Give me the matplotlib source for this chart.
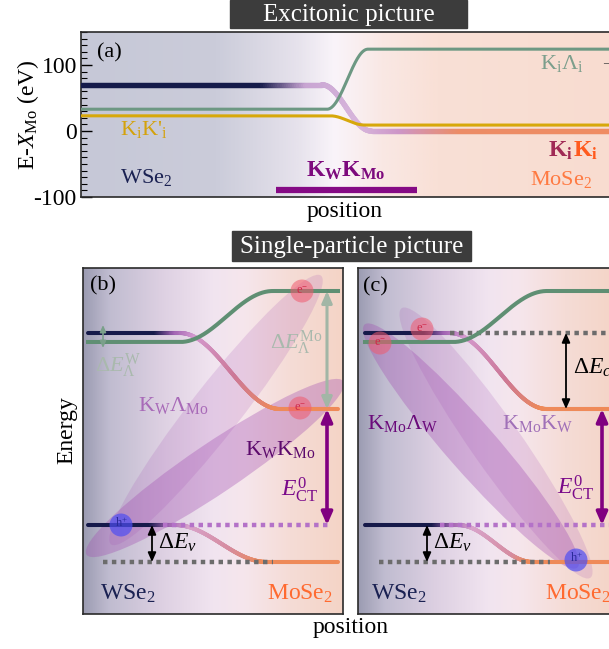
import numpy as np
import matplotlib.pyplot as plt
from matplotlib.collections import LineCollection
from matplotlib.colors import LinearSegmentedColormap
from matplotlib.patches import Ellipse, Circle, Rectangle
from matplotlib.ticker import MultipleLocator

plt.rcParams['font.family'] = ['Liberation Serif', 'DejaVu Serif']
plt.rcParams['mathtext.fontset'] = 'custom'
plt.rcParams['mathtext.rm'] = 'Liberation Serif'
plt.rcParams['mathtext.it'] = 'Liberation Serif:italic'
plt.rcParams['mathtext.bf'] = 'Liberation Serif:bold'
plt.rcParams['axes.unicode_minus'] = False

# ---------------- data ----------------
# (a) exciton energies E - X_Mo (left plateau, right plateau) and where they switch
kk_lev = [70, 0]          # K_W K_Mo  ->  K_i K_i
kk_x = [241, 290]
kl_lev = [33, 124]        # K_i Lambda_i
kl_x = [246, 287]
kkp_lev = [23, 9]         # K_i K'_i
kkp_x = [249, 284]
kwkmo_bar = [195, 336]
kwkmo_y = -89

# (b)/(c) single-particle levels (arb. units)
cb_w, cb_mo = 281, 205
lam_w, lam_mo = 272, 323
vb_w, vb_mo = 89, 52

cb_x_b, lam_x_b, vb_x_b = [97, 197], [97, 190], [92, 184]
cb_x_c, lam_x_c, vb_x_c = [92, 189], [95, 189], [100, 175]

# carriers (x, y) and exciton clouds (cx, cy, length, angle, alpha)
elec_b = [(219, 323), (217, 206)]
hole_b = [(38, 89)]
cloud_b = [(133, 204, 341, 52, 0.18), (132, 146, 310, 34, 0.35)]
elec_c = [(22, 271), (64, 285)]
hole_c = [(218, 54)]
cloud_c = [(113, 168, 323, -48.8, 0.35), (138, 171, 329, -55, 0.18)]

W, H = 609, 649
fig = plt.figure(figsize=(W / 100, H / 100), dpi=100)


def rect(l, t, r, b):
    return [l / W, 1 - b / H, (r - l) / W, (b - t) / H]


def label(x, y, s, **kw):
    kw.setdefault('va', 'center')
    return fig.text(x / W, 1 - y / H, s, **kw)


def step(x, xr, lev):
    t = np.clip((x - xr[0]) / (xr[1] - xr[0]), 0, 1)
    return lev[0] + (lev[1] - lev[0]) * 0.5 * (1 - np.cos(np.pi * t))


def band(ax, x, y, stops, lw, z=3):
    xs = np.array([s[0] for s in stops], float)
    pos = (xs - xs[0]) / (xs[-1] - xs[0])
    cmap = LinearSegmentedColormap.from_list('b', list(zip(pos, [s[1] for s in stops])))
    pts = np.column_stack([x, y]).reshape(-1, 1, 2)
    segs = np.concatenate([pts[:-1], pts[1:]], axis=1)
    xm = 0.5 * (x[:-1] + x[1:])
    t = np.clip((xm - xs[0]) / (xs[-1] - xs[0]), 0, 1)
    ax.add_collection(LineCollection(segs, colors=cmap(t), linewidths=lw,
                                     capstyle='round', joinstyle='round', zorder=z))


def backdrop(ax, stops):
    cmap = LinearSegmentedColormap.from_list('bg', stops)
    x0, x1 = ax.get_xlim()
    y0, y1 = ax.get_ylim()
    ax.imshow(np.linspace(0, 1, 400)[None, :], cmap=cmap, aspect='auto',
              extent=[x0, x1, y0, y1], zorder=0)
    ax.set_xlim(x0, x1)
    ax.set_ylim(y0, y1)


def frame(ax):
    for s in ax.spines.values():
        s.set_color('#2a2a2a')
        s.set_linewidth(1.2)


def arrow(ax, x, y0, y1, color, lw, ms):
    ax.annotate('', xy=(x, y1), xytext=(x, y0),
                arrowprops=dict(arrowstyle='<|-|>,head_length=0.5,head_width=0.22',
                                color=color, lw=lw, mutation_scale=ms,
                                shrinkA=0, shrinkB=0), zorder=6)


def title_box(l, t, r, b, s):
    fig.add_artist(Rectangle((l / W, 1 - b / H), (r - l) / W, (b - t) / H,
                             transform=fig.transFigure, color='#3c3c3c', zorder=5))
    label((l + r) / 2, (t + b) / 2 + 1, s, ha='center', color='white', fontsize=18, zorder=6)


# ---------------- (a) excitonic picture ----------------
ax = fig.add_axes(rect(81, 32, 621, 197))
ax.set_xlim(0, 540)
ax.set_ylim(-100, 150)
backdrop(ax, [(0, '#c6c8d7'), (0.25, '#cbccda'), (0.40, '#e6e2ec'), (0.47, '#faf4fa'),
              (0.56, '#f9e8e4'), (0.66, '#f9e0d6'), (1, '#f8dcd0')])
xa = np.linspace(0, 540, 800)
band(ax, xa, step(xa, kk_x, kk_lev),
     [(0, '#151b4a'), (180, '#151b4a'), (225, '#c8a4d2'), (280, '#d8b6dc'),
      (320, '#cd96c8'), (380, '#ec8c66'), (540, '#ef8c62')], 3.8)
ax.plot(xa, step(xa, kl_x, kl_lev), color='#6d9883', lw=2.2, zorder=4)
ax.plot(xa, step(xa, kkp_x, kkp_lev), color='#d7a80a', lw=2.2, zorder=4)
ax.plot(kwkmo_bar, [kwkmo_y, kwkmo_y], color='#850a85', lw=4.5, solid_capstyle='butt', zorder=4)
ax.set_xticks([])
ax.set_yticks([-100, 0, 100])
ax.yaxis.set_minor_locator(MultipleLocator(10))
ax.tick_params(axis='y', which='major', direction='in', length=8, width=1, labelsize=17, pad=3)
ax.tick_params(axis='y', which='minor', direction='in', length=4, width=0.8)
frame(ax)

label(28, 115, 'E-$X_{\\mathrm{Mo}}$ (eV)', ha='center', rotation=90, fontsize=17)
label(345, 211, 'position', ha='center', fontsize=17)
label(97, 53, '(a)', fontsize=16)
label(120, 130, "K$_\\mathrm{i}$K'$_\\mathrm{i}$", color='#d4a20c', fontsize=16)
label(120, 178, 'WSe$_2$', color='#1a2152', fontsize=16)
label(346, 171, 'K$_\\mathbf{W}$K$_\\mathbf{Mo}$', ha='center', color='#7d0a7d',
      fontsize=17, fontweight='bold')
label(540, 63, 'K$_\\mathrm{i}$Λ$_\\mathrm{i}$', color='#7c9e8c', fontsize=16)
label(548, 151, 'K$_\\mathbf{i}$', color='#a02a55', fontsize=17, fontweight='bold')
label(573, 151, 'K$_\\mathbf{i}$', color='#ff5a1e', fontsize=17, fontweight='bold')
label(530, 180, 'MoSe$_2$', color='#ff7a42', fontsize=16)
label(603, 64, '—', color='#444444', fontsize=10)
title_box(230, 0, 467, 28, 'Excitonic picture')


# ---------------- (b) and (c) single-particle picture ----------------
def panel(l, cbx, lamx, vbx, x0, x1, elecs, holes, clouds, dots):
    ax = fig.add_axes(rect(l, 268, l + 260, 614))
    ax.set_xlim(0, 260)
    ax.set_ylim(0, 346)
    backdrop(ax, [(0, '#9c9cb2'), (0.1, '#c0bcd0'), (0.3, '#ddd0e2'), (0.5, '#f1e4f0'),
                  (0.62, '#f6e6ec'), (0.8, '#f5dcd6'), (1, '#f4d4c6')])
    for cx, cy, length, ang, a in clouds:
        ax.add_patch(Ellipse((cx, cy), length, 50, angle=ang, color='#a24fb2',
                             alpha=a, lw=0, zorder=1))
    x = np.linspace(x0, x1, 600)
    band(ax, x, step(x, cbx, [cb_w, cb_mo]),
         [(x0, '#161a4a'), (cbx[0] - 25, '#161a4a'), (cbx[0] - 5, '#a062b2'),
          (cbx[0] + 15, '#d49ad0'), (cbx[0] + 55, '#cc7898'), (cbx[1] - 5, '#ee8a5a'),
          (260, '#ef8a58')], 2.9)
    ax.plot(x, step(x, lamx, [lam_w, lam_mo]), color='#5f8f73', lw=2.9, zorder=4)
    band(ax, x, step(x, vbx, [vb_w, vb_mo]),
         [(x0, '#161a4a'), (vbx[0] - 25, '#161a4a'), (vbx[0] - 5, '#a062b2'),
          (vbx[0] + 15, '#d8a4cc'), (vbx[0] + 55, '#d68ca0'), (vbx[1] - 5, '#ee8a5a'),
          (260, '#ef8a58')], 2.9)
    for xs, y, c in dots:
        ax.plot(xs, [y, y], color=c, lw=3.2, linestyle=(0, (1, 1)), solid_capstyle='butt', zorder=3.5)
    for ex, ey in elecs:
        ax.add_patch(Circle((ex, ey), 11.5, color='#f05a6e', alpha=0.55, lw=0, zorder=5))
        ax.text(ex, ey, 'e$^{-}$', color='#d02848', fontsize=9, ha='center', va='center', zorder=5)
    for hx, hy in holes:
        ax.add_patch(Circle((hx, hy), 11.5, color='#4e4ef2', alpha=0.7, lw=0, zorder=5))
        ax.text(hx, hy + 2, 'h$^{+}$', color='#2a2a9a', fontsize=9, ha='center', va='center', zorder=5)
    ax.set_xticks([])
    ax.set_yticks([])
    frame(ax)
    return ax


axb = panel(83, cb_x_b, lam_x_b, vb_x_b, 5, 255, elec_b, hole_b, cloud_b,
            [([20, 190], vb_mo, '#6c6c6c'), ([80, 247], vb_w, '#b472c8')])
arrow(axb, 20, 266, 289, '#7aa08a', 1.2, 8)
arrow(axb, 244, cb_mo, lam_mo, '#a2b6a6', 2.2, 14)
arrow(axb, 244, vb_w, cb_mo, '#800080', 2.6, 15)
arrow(axb, 69, vb_mo, vb_w, 'black', 1.3, 11)

axc = panel(358, cb_x_c, lam_x_c, vb_x_c, 7, 260, elec_c, hole_c, cloud_c,
            [([92, 260], cb_w, '#6c6c6c'), ([21, 192], vb_mo, '#6c6c6c'),
             ([82, 260], vb_w, '#b472c8')])
arrow(axc, 208, cb_mo, cb_w, 'black', 1.3, 11)
arrow(axc, 244, vb_w, cb_mo, '#800080', 2.6, 15)
arrow(axc, 69, vb_mo, vb_w, 'black', 1.3, 11)

title_box(232, 231, 471, 261, 'Single-particle picture')
label(67, 430, 'Energy', ha='center', rotation=90, fontsize=17)
label(351, 628, 'position', ha='center', fontsize=17)

# (b) labels
label(90, 286, '(b)', fontsize=16)
label(95, 366, '$\\mathit{ΔE}^{\\mathrm{W}}_{\\mathit{Λ}}$', color='#a9b9ad', fontsize=16)
label(270, 343, '$\\mathit{ΔE}^{\\mathrm{Mo}}_{\\mathit{Λ}}$', color='#a9b9ad', fontsize=16)
label(138, 405, 'K$_\\mathrm{W}$Λ$_\\mathrm{Mo}$', color='#a86ab8', fontsize=16)
label(245, 450, 'K$_\\mathrm{W}$K$_\\mathrm{Mo}$', color='#5c0a6c', fontsize=16)
label(281, 490, '$E^{0}_{\\mathrm{CT}}$', color='#7a0a8a', fontsize=17)
label(158, 543, '$\\Delta E_{v}$', color='black', fontsize=17)
label(100, 594, 'WSe$_2$', color='#1a2152', fontsize=17)
label(333, 594, 'MoSe$_2$', ha='right', color='#ff6a30', fontsize=17)

# (c) labels
label(363, 287, '(c)', fontsize=16)
label(367, 423, 'K$_\\mathrm{Mo}$Λ$_\\mathrm{W}$', color='#6a0a7a', fontsize=16)
label(502, 423, 'K$_\\mathrm{Mo}$K$_\\mathrm{W}$', color='#a070b8', fontsize=16)
label(573, 368, '$\\Delta E_{c}$', color='black', fontsize=17)
label(557, 488, '$E^{0}_{\\mathrm{CT}}$', color='#7a0a8a', fontsize=17)
label(433, 543, '$\\Delta E_{v}$', color='black', fontsize=17)
label(371, 594, 'WSe$_2$', color='#1a2152', fontsize=17)
label(545, 594, 'MoSe$_2$', color='#ff6a30', fontsize=17)

fig.savefig('out.png', dpi=100)
